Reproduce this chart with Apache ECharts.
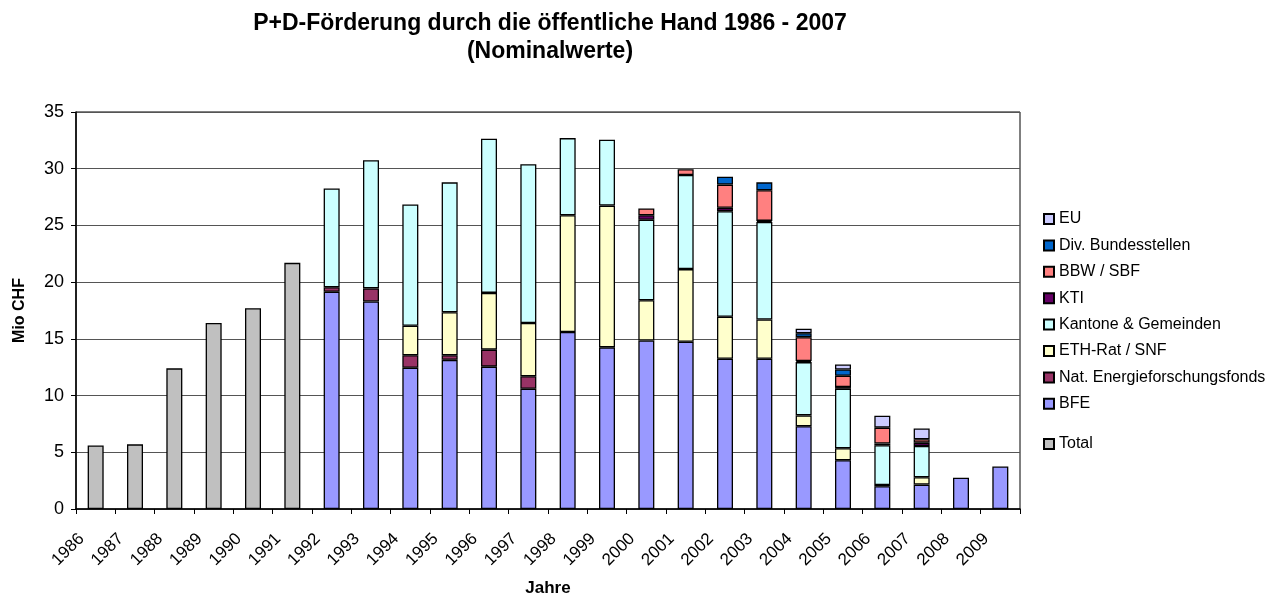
<!DOCTYPE html>
<html>
<head>
<meta charset="utf-8">
<script src="https://cdn.jsdelivr.net/npm/echarts@6/dist/echarts.min.js"></script>
<style>html,body{margin:0;padding:0;background:#fff;overflow:hidden;}#c{width:1275px;height:595px;}</style>
</head>
<body>
<div id="c"></div>
<script>
const years = ['1986','1987','1988','1989','1990','1991','1992','1993','1994','1995','1996','1997','1998','1999','2000','2001','2002','2003','2004','2005','2006','2007','2008','2009'];
const N = null;
const total = [5.6,5.7,12.4,16.4,17.7,21.7,N,N,N,N,N,N,N,N,N,N,N,N,N,N,N,N,N,N];
const bfe   = [N,N,N,N,N,N,19.15,18.3,12.45,13.15,12.55,10.6,15.6,14.25,14.85,14.75,13.25,13.25,7.3,4.3,2.0,2.15,2.75,3.75];
const nef   = [N,N,N,N,N,N,0.4,1.15,1.1,0.4,1.5,1.1,N,N,N,N,N,N,N,N,0.12,N,N,N];
const eth   = [N,N,N,N,N,N,N,N,2.6,3.8,5.0,4.7,10.3,12.5,3.55,6.4,3.7,3.45,0.95,1.05,N,0.65,N,N];
const kant  = [N,N,N,N,N,N,8.7,11.3,10.7,11.45,13.6,14.0,6.8,5.8,7.1,8.3,9.3,8.6,4.7,5.25,3.5,2.75,N,N];
const kti   = [N,N,N,N,N,N,N,N,N,N,N,N,N,N,0.4,N,0.3,0.1,0.1,0.15,0.15,0.3,N,N];
const bbw   = [N,N,N,N,N,N,N,N,N,N,N,N,N,N,0.6,0.5,2.05,2.7,2.1,1.0,1.4,0.3,N,N];
const div   = [N,N,N,N,N,N,N,N,N,N,N,N,N,N,N,N,0.7,0.7,0.35,0.55,N,N,N,N];
const eu    = [N,N,N,N,N,N,N,N,N,N,N,N,N,N,N,N,N,N,0.4,0.45,1.05,0.95,N,N];
const yTicks = [0,5,10,15,20,25,30,35];

const FONT = 'Liberation Sans, Arial, sans-serif';
const defs = [
  ['Total', total, '#C0C0C0'],
  ['BFE', bfe, '#9999FF'],
  ['Nat. Energieforschungsfonds', nef, '#993366'],
  ['ETH-Rat / SNF', eth, '#FFFFCC'],
  ['Kantone & Gemeinden', kant, '#CCFFFF'],
  ['KTI', kti, '#660066'],
  ['BBW / SBF', bbw, '#FF8080'],
  ['Div. Bundesstellen', div, '#0066CC'],
  ['EU', eu, '#CCCCFF']
];
const series = defs.map(d => ({
  name: d[0], type: 'bar', stack: 'all', data: d[1], barWidth: 16,
  itemStyle: {color: d[2], borderColor: '#000', borderWidth: 1.3},
  emphasis: {disabled: true}
}));

const legendText = {fontFamily: FONT, fontSize: 16, color: '#000', lineHeight: 16};
const chart = echarts.init(document.getElementById('c'), null, {renderer: 'canvas'});
chart.setOption({
  animation: false,
  backgroundColor: '#fff',
  textStyle: {fontFamily: FONT},
  graphic: [
    {type: 'text', x: 550, y: 12, style: {text: 'P+D-Förderung durch die öffentliche Hand 1986 - 2007', font: 'bold 23px ' + FONT, fill: '#000', textAlign: 'center'}},
    {type: 'text', x: 550, y: 40, style: {text: '(Nominalwerte)', font: 'bold 23px ' + FONT, fill: '#000', textAlign: 'center'}}
  ],
  grid: {left: 76, width: 944, top: 112, height: 397, show: true, borderColor: '#000', borderWidth: 1,
    containLabel: false, outerBoundsMode: 'none'},
  legend: [
    {
      data: ['EU','Div. Bundesstellen','BBW / SBF','KTI','Kantone & Gemeinden','ETH-Rat / SNF','Nat. Energieforschungsfonds','BFE'],
      orient: 'vertical', left: 1038, top: 206, itemWidth: 10, itemHeight: 10, itemGap: 10.4,
      icon: 'rect', selectedMode: false, textStyle: legendText
    },
    {
      data: ['Total'], orient: 'vertical', left: 1038, top: 431, itemWidth: 10, itemHeight: 10,
      icon: 'rect', selectedMode: false, textStyle: legendText
    }
  ],
  xAxis: {
    type: 'category', data: years, name: 'Jahre', nameLocation: 'middle', nameGap: 71,
    nameTextStyle: {fontFamily: FONT, fontSize: 17, fontWeight: 'bold', color: '#000'},
    axisLine: {lineStyle: {color: '#000', width: 1.5}},
    axisTick: {show: true, length: 5, lineStyle: {color: '#000'}},
    axisLabel: {rotate: 45, fontFamily: FONT, fontSize: 17, color: '#000', margin: 13, interval: 0, padding: [0, 20, 0, 0]},
    splitLine: {show: false}
  },
  yAxis: {
    type: 'value', min: 0, max: 35, interval: 5, name: 'Mio CHF', nameLocation: 'middle', nameGap: 48,
    nameTextStyle: {fontFamily: FONT, fontSize: 16, fontWeight: 'bold', color: '#000'},
    axisLine: {show: true, lineStyle: {color: '#000', width: 1.5}},
    axisTick: {show: true, inside: false, length: 5, lineStyle: {color: '#000'}},
    axisLabel: {fontFamily: FONT, fontSize: 18, color: '#000', margin: 12,
      formatter: v => yTicks.includes(v) ? String(v) : ''},
    splitLine: {show: true, lineStyle: {color: '#555', width: 1}}
  },
  series: series
});
</script>
</body>
</html>
